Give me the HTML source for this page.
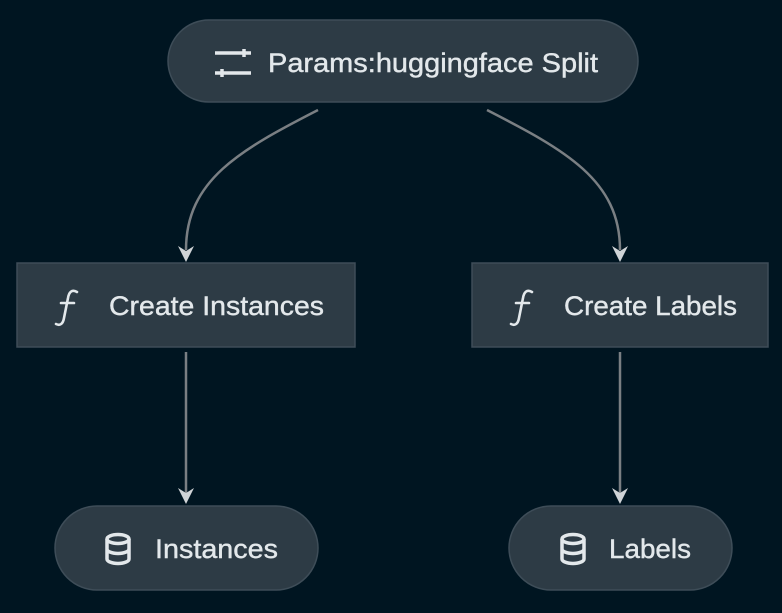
<!DOCTYPE html>
<html><head><meta charset="utf-8"><style>html,body{margin:0;padding:0;background:#001521;}svg{display:block}</style></head><body>
<svg width="782" height="613" viewBox="0 0 782 613" xmlns="http://www.w3.org/2000/svg" font-family="Liberation Sans, sans-serif">
<rect width="782" height="613" fill="#001521"/>
<g fill="none" stroke="#7a7f83" stroke-width="2.5">
<path d="M318,110 C240,150 186,180 186,250"/>
<path d="M487,110 C565,150 620,180 620,250"/>
<path d="M186,352 L186,494"/>
<path d="M620,352 L620,494"/>
</g>
<g fill="#d0d4d7">
<path d="M178,246 L186,262 L194,246 L186,251 Z"/>
<path d="M612,246 L620,262 L628,246 L620,251 Z"/>
<path d="M178,488 L186,504 L194,488 L186,493 Z"/>
<path d="M612,488 L620,504 L628,488 L620,493 Z"/>
</g>
<g fill="#2d3b45" stroke="#3e4d58" stroke-width="1.5">
<rect x="168" y="20" width="470" height="82" rx="41"/>
<rect x="17" y="263" width="338" height="84"/>
<rect x="472" y="263" width="296" height="84"/>
<rect x="55" y="506" width="263" height="84" rx="42"/>
<rect x="509" y="506" width="223" height="84" rx="42"/>
</g>
<g fill="#e3e8eb" font-size="27" stroke="#e3e8eb" stroke-width="0.4">
<text x="268" y="72" textLength="330" lengthAdjust="spacingAndGlyphs">Params:huggingface Split</text>
<text x="109" y="315" textLength="215" lengthAdjust="spacingAndGlyphs">Create Instances</text>
<text x="564" y="315" textLength="173" lengthAdjust="spacingAndGlyphs">Create Labels</text>
<text x="155" y="558" textLength="123" lengthAdjust="spacingAndGlyphs">Instances</text>
<text x="609" y="558" textLength="82" lengthAdjust="spacingAndGlyphs">Labels</text>
</g>
<g stroke="#e3e8eb" stroke-width="3.5" fill="none">
<path d="M215,53 H251 M244,49 V57 M215,73 H251 M222,69 V77"/>
</g>
<g stroke="#e3e8eb" stroke-width="2.6" fill="none" stroke-linecap="round">
<path d="M77,292 C72,289 69,292 68,298 L64,318 C63,324 60,326 56,324 M61,303 H74"/>
<path d="M532,292 C527,289 524,292 523,298 L519,318 C518,324 515,326 511,324 M516,303 H529"/>
</g>
<g stroke="#e3e8eb" stroke-width="3.5" fill="none">
<g transform="translate(118,549)">
<ellipse cx="0" cy="-10" rx="11" ry="4.5"/>
<path d="M-11,-10 V10 A11,4.5 0 0 0 11,10 V-10 M-11,0 A11,4.5 0 0 0 11,0"/>
</g>
<g transform="translate(573,549)">
<ellipse cx="0" cy="-10" rx="11" ry="4.5"/>
<path d="M-11,-10 V10 A11,4.5 0 0 0 11,10 V-10 M-11,0 A11,4.5 0 0 0 11,0"/>
</g>
</g>
</svg>
</body></html>
